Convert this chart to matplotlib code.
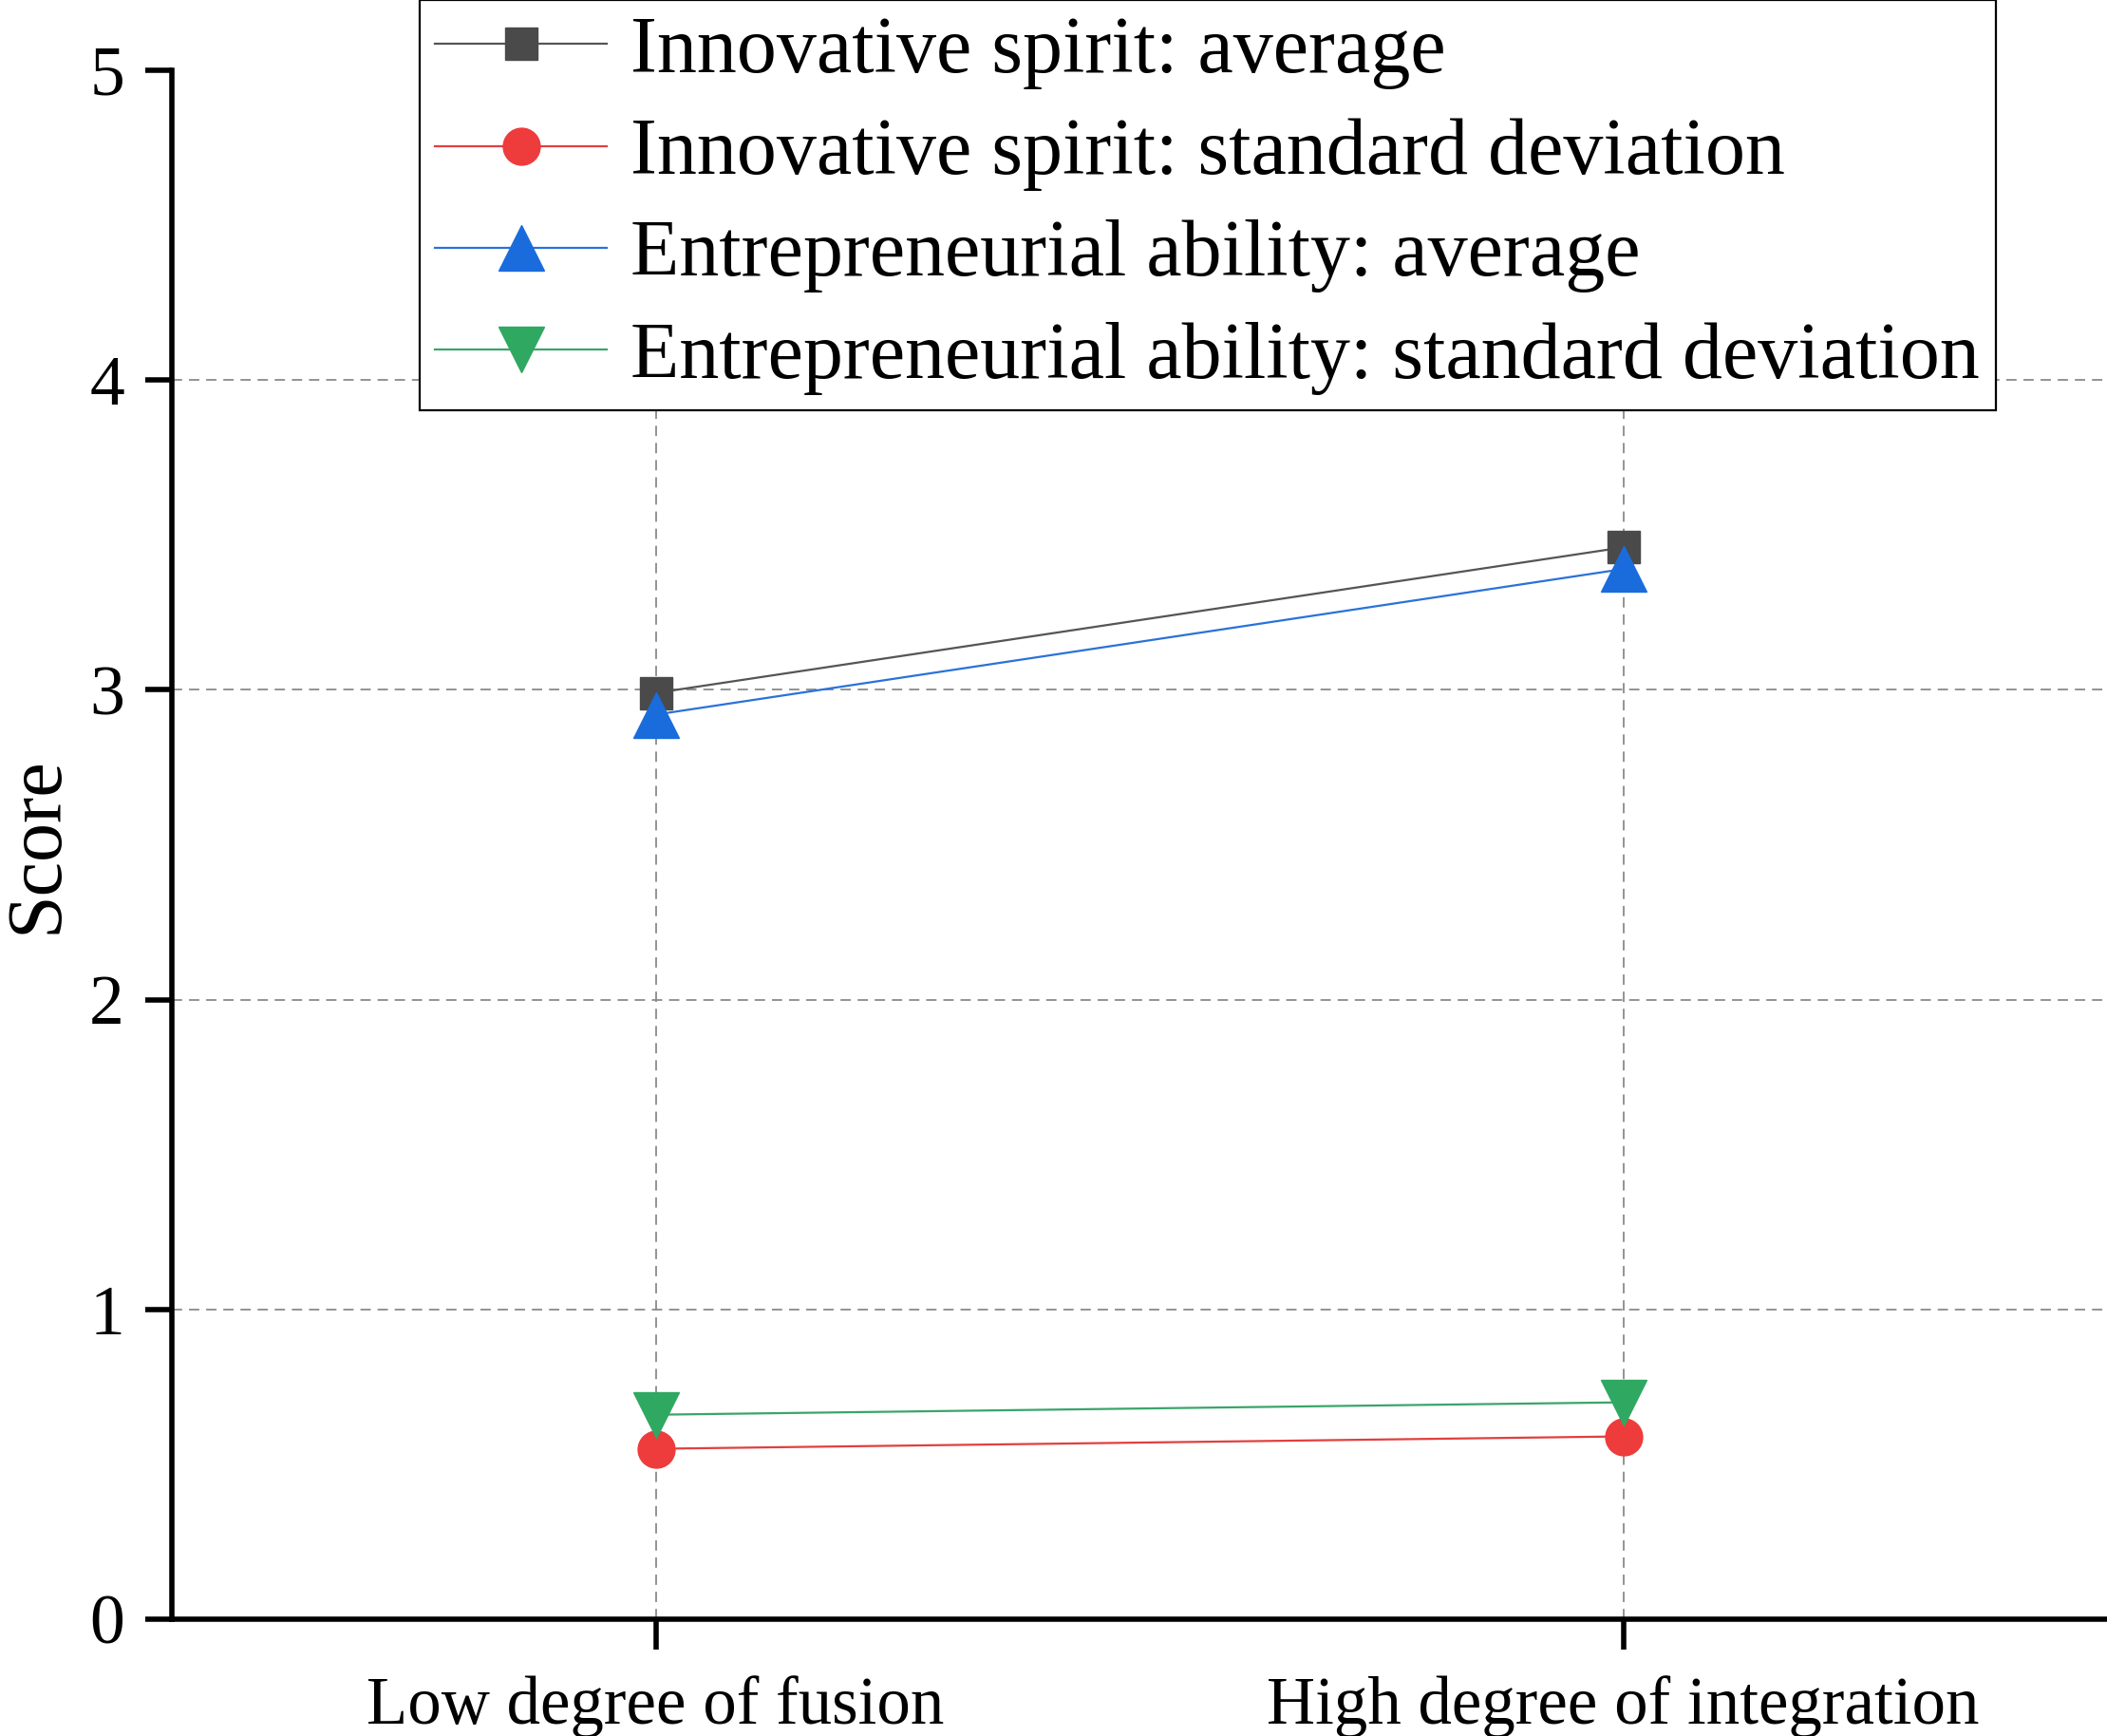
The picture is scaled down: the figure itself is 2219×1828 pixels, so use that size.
import matplotlib
matplotlib.use('Agg')
import matplotlib.pyplot as plt

# values
groups = ['Low degree of fusion', 'High degree of integration']
spirit_avg = [2.99, 3.46]
spirit_sd = [0.55, 0.59]
ability_avg = [2.92, 3.39]
ability_sd = [0.66, 0.70]
labels = ['Innovative spirit: average',
          'Innovative spirit: standard deviation',
          'Entrepreneurial ability: average',
          'Entrepreneurial ability: standard deviation']

plt.rcParams['font.family'] = ['Liberation Serif', 'DejaVu Serif']

fig = plt.figure(figsize=(22.19, 18.28), dpi=100)
ax = fig.add_axes([0.0816, 0.0673, 0.9184, 0.8922])

x = range(len(groups))
ax.plot(x, spirit_avg, color='#555555', marker='s', ms=24, mfc='#4a4a4a', mec='#4a4a4a', lw=1.6, label=labels[0], zorder=3)
ax.plot(x, spirit_sd, color='#e0403f', marker='o', ms=28, mfc='#ee3b3b', mec='#ee3b3b', lw=1.6, label=labels[1], zorder=3)
ax.plot(x, ability_avg, color='#2a72d8', marker='^', ms=35, mfc='#1a6cdc', mec='#1a6cdc', lw=1.6, label=labels[2], zorder=3)
ax.plot(x, ability_sd, color='#3aa56a', marker='v', ms=35, mfc='#2fa862', mec='#2fa862', lw=1.6, label=labels[3], zorder=3)

ax.set_xlim(-0.5, 1.5)
ax.set_ylim(0, 5)
ax.set_xticks([0, 1])
ax.set_xticklabels(groups, fontsize=51)
ax.set_yticks([0, 1, 2, 3, 4, 5])
ax.tick_params(axis='y', labelsize=53, length=20, width=4, pad=16)
ax.tick_params(axis='x', length=23, width=4, pad=20)
ax.set_ylabel('Score', fontsize=59, labelpad=12)

for s in ['top', 'right']:
    ax.spines[s].set_visible(False)
for s in ['left', 'bottom']:
    ax.spines[s].set_linewidth(4)

ax.grid(True, color='#8a8a8a', linestyle=(0, (6, 4)), linewidth=1.3)
ax.set_axisbelow(True)
# no grid line at the top of the axis
ax.yaxis.get_gridlines()[-1].set_visible(False)

leg = fig.legend(loc='upper left', bbox_to_anchor=(0.199, 1.0), fontsize=60.5,
                 frameon=True, fancybox=False, edgecolor='black', framealpha=1,
                 handlelength=2.15, handletextpad=0.3, borderpad=0.2,
                 labelspacing=0.36, borderaxespad=0)
leg.get_frame().set_linewidth(1.6)

plt.savefig('out.png', dpi=100)
